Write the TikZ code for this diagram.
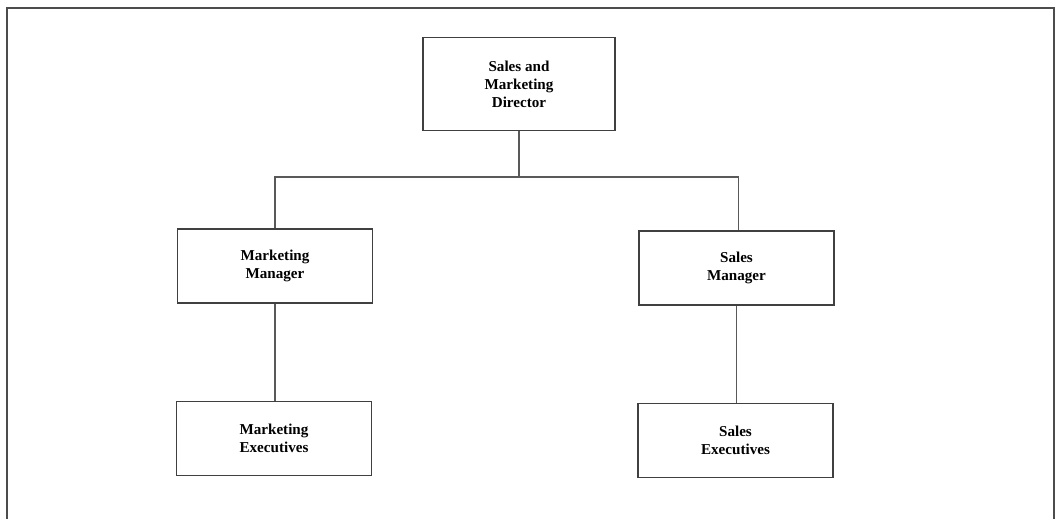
\documentclass[tikz,border=0pt]{standalone}
\usepackage{fontspec}
\setmainfont{Liberation Serif}
\usetikzlibrary{positioning}
\tikzset{
  role-box/.style={draw=black!75,line width=0.9pt,rectangle,minimum width=3.9cm,minimum height=1.48cm,inner sep=0pt,align=center,font=\fontsize{8.6}{10.3}\selectfont\bfseries},
  link/.style={draw=black!65,line width=0.7pt},
  frame/.style={draw=black!70,line width=1.2pt},
}
\begin{document}
\begin{tikzpicture}[x=0.02cm,y=-0.02cm]

  \useasboundingbox (0,0) rectangle (1056,519);
  \draw[frame] (7,519) -- (7,8) -- (1054,8) -- (1054,519);

  % TOP
  \node[role-box,minimum width=3.84cm,minimum height=1.86cm] (dir) at (519, 84) {Sales and\\Marketing\\Director};

  % MANAGERS
  \node[role-box] (mm)  at (275, 266)   {Marketing\\Manager};
  \node[role-box] (sm)  at (736.5, 268) {Sales\\Manager};
  \coordinate (bus) at (519, 177);
  \draw[link] (dir.south) -- (bus);
  \draw[link] (mm.north) |- (bus) -| ([xshift=1.5\pgflinewidth]sm.north);

  % EXECUTIVES
  \node[role-box] (me)  at (274, 438.5)   {Marketing\\Executives};
  \node[role-box] (se)  at (735.5, 440.5) {Sales\\Executives};
  \draw[link] (mm.south) -- (mm.south |- me.north);
  \draw[link] (sm.south) -- (sm.south |- se.north);

\end{tikzpicture}
\end{document}
